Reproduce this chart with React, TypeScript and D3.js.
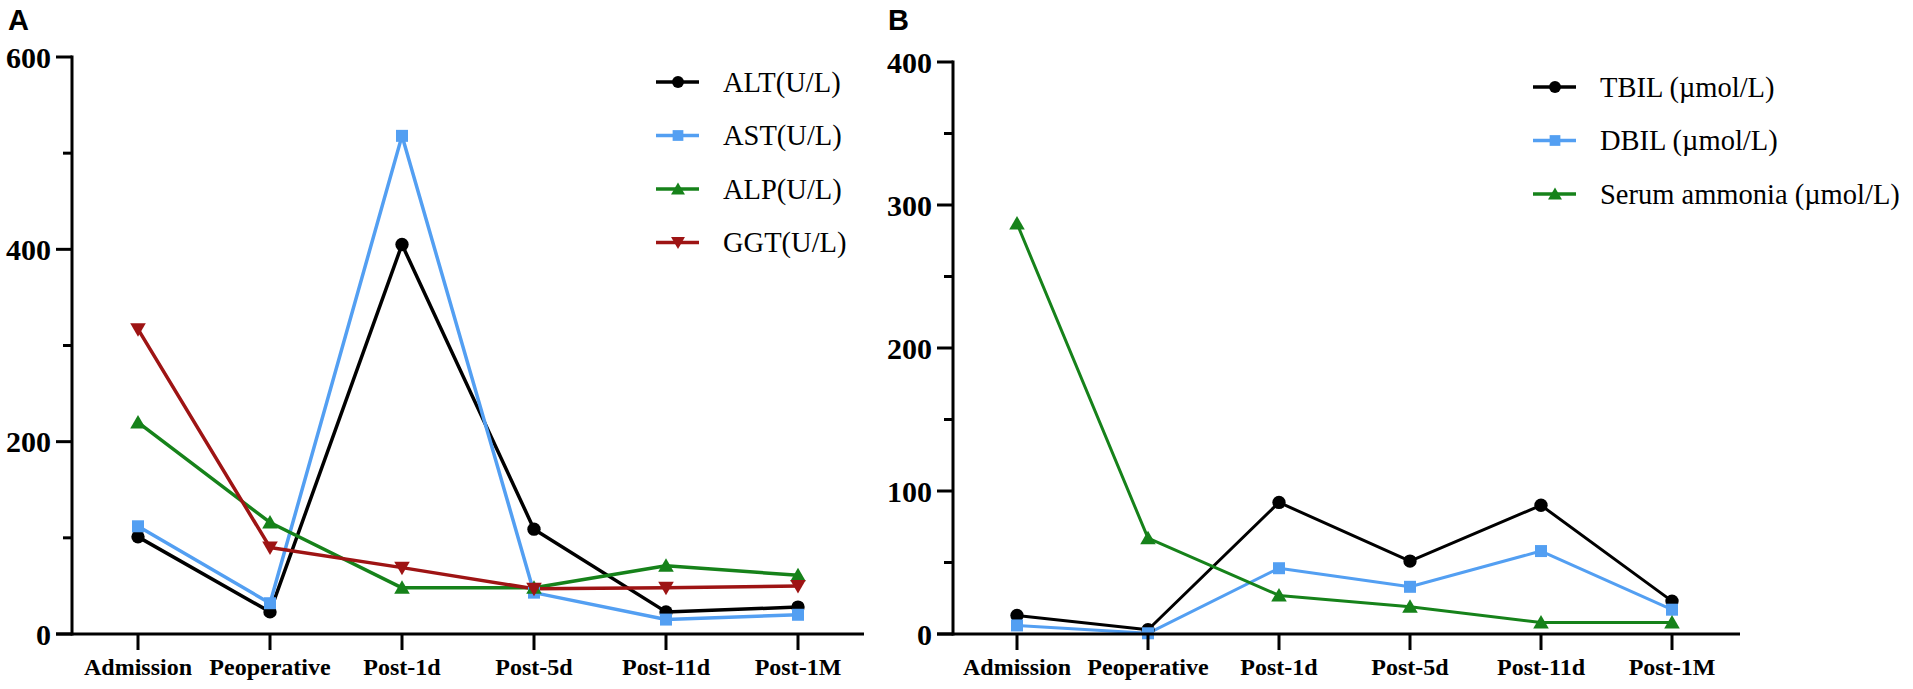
import React, { useEffect } from "react";
import * as d3 from "d3";

const categories = ["Admission", "Peoperative", "Post-1d", "Post-5d", "Post-11d", "Post-1M"];

// Panel A (U/L)
const altValues = [101, 23, 405, 109, 23, 28];
const astValues = [112, 32, 518, 43, 15, 20];
const alpValues = [220, 116, 48, 48, 71, 61];
const ggtValues = [317, 90, 69, 47, 48, 50];
const ticksA = [0, 200, 400, 600];
const minorTicksA = [100, 300, 500];

// Panel B (µmol/L)
const tbilValues = [13, 3, 92, 51, 90, 23];
const dbilValues = [6, 0.5, 46, 33, 58, 17];
const ammoniaValues = [287, 67, 27, 19, 8, 8];
const ticksB = [0, 100, 200, 300, 400];
const minorTicksB = [50, 150, 250, 350];

const BLACK = "#000000";
const BLUE = "#539ff2";
const GREEN = "#16821a";
const RED = "#9e1414";

type Shape = "circle" | "square" | "up" | "down";

interface Series {
  name: string;
  values: number[];
  color: string;
  shape: Shape;
}

const seriesA: Series[] = [
  { name: "ALT(U/L)", values: altValues, color: BLACK, shape: "circle" },
  { name: "AST(U/L)", values: astValues, color: BLUE, shape: "square" },
  { name: "ALP(U/L)", values: alpValues, color: GREEN, shape: "up" },
  { name: "GGT(U/L)", values: ggtValues, color: RED, shape: "down" },
];

const seriesB: Series[] = [
  { name: "TBIL (\u00b5mol/L)", values: tbilValues, color: BLACK, shape: "circle" },
  { name: "DBIL (\u00b5mol/L)", values: dbilValues, color: BLUE, shape: "square" },
  { name: "Serum ammonia (\u00b5mol/L)", values: ammoniaValues, color: GREEN, shape: "up" },
];

const SERIF = "'Liberation Serif', 'Times New Roman', serif";
const SANS = "'Liberation Sans', Arial, sans-serif";

function markerPath(shape: Shape, scale = 1): string {
  const gen = d3.symbol();
  if (shape === "circle") return gen.type(d3.symbolCircle).size(140 * scale)() || "";
  if (shape === "square") return gen.type(d3.symbolSquare).size(144 * scale)() || "";
  return gen.type(d3.symbolTriangle).size(105 * scale)() || "";
}

function Marker({ shape, x, y, color, scale = 1 }: { shape: Shape; x: number; y: number; color: string; scale?: number }) {
  const rot = shape === "down" ? 180 : 0;
  const dy = shape === "up" ? 1.5 : shape === "down" ? -1.5 : 0;
  return (
    <path
      d={markerPath(shape, scale)}
      transform={`translate(${x},${y + dy}) rotate(${rot})`}
      fill={color}
    />
  );
}

interface PanelProps {
  label: string;
  labelX: number;
  axisX: number;
  xRange: [number, number];
  yDomain: [number, number];
  yRange: [number, number];
  axisEnd: number;
  majorTicks: number[];
  minorTicks: number[];
  series: Series[];
  lineWidth: number;
  legendX: number;
  legendY: number;
  legendStep: number;
}

function Panel(p: PanelProps) {
  const x = d3.scalePoint<string>().domain(categories).range(p.xRange).padding(0);
  const y = d3.scaleLinear().domain(p.yDomain).range(p.yRange);
  const y0 = y(0);
  const line = d3
    .line<number>()
    .x((_, i) => x(categories[i]) as number)
    .y((v) => y(v));

  return (
    <g>
      <text x={p.labelX} y={30} fontFamily={SANS} fontWeight="bold" fontSize={29}>
        {p.label}
      </text>

      {/* data lines */}
      {p.series.map((s) => (
        <path key={s.name} d={line(s.values) || ""} fill="none" stroke={s.color} strokeWidth={p.lineWidth} strokeLinejoin="round" />
      ))}
      {p.series.map((s) =>
        s.values.map((v, i) => (
          <Marker key={s.name + i} shape={s.shape} x={x(categories[i]) as number} y={y(v)} color={s.color} />
        ))
      )}

      {/* y axis */}
      <line x1={p.axisX} x2={p.axisX} y1={y(p.yDomain[1]) - 1.5} y2={y0 + 1.5} stroke="#000" strokeWidth={3} />
      {p.majorTicks.map((t) => (
        <g key={"M" + t}>
          <line x1={p.axisX - 16} x2={p.axisX} y1={y(t)} y2={y(t)} stroke="#000" strokeWidth={3} />
          <text
            x={p.axisX - 21}
            y={y(t)}
            textAnchor="end"
            dominantBaseline="central"
            fontFamily={SERIF}
            fontWeight="bold"
            fontSize={30}
          >
            {t}
          </text>
        </g>
      ))}
      {p.minorTicks.map((t) => (
        <line key={"m" + t} x1={p.axisX - 9} x2={p.axisX} y1={y(t)} y2={y(t)} stroke="#000" strokeWidth={3} />
      ))}

      {/* x axis */}
      <line x1={p.axisX - 16} x2={p.axisEnd} y1={y0} y2={y0} stroke="#000" strokeWidth={3} />
      {categories.map((c) => (
        <g key={c}>
          <line x1={x(c) as number} x2={x(c) as number} y1={y0} y2={y0 + 16} stroke="#000" strokeWidth={3} />
          <text x={x(c) as number} y={675} textAnchor="middle" fontFamily={SERIF} fontWeight="bold" fontSize={24}>
            {c}
          </text>
        </g>
      ))}

      {/* legend */}
      {p.series.map((s, i) => {
        const ly = p.legendY + i * p.legendStep;
        return (
          <g key={"lg" + s.name}>
            <line x1={p.legendX} x2={p.legendX + 43} y1={ly} y2={ly} stroke={s.color} strokeWidth={3.5} />
            <Marker shape={s.shape} x={p.legendX + 22} y={ly} color={s.color} scale={0.8} />
            <text x={p.legendX + 67} y={ly} dominantBaseline="central" fontFamily={SERIF} fontSize={28.5}>
              {s.name}
            </text>
          </g>
        );
      })}
    </g>
  );
}

export default function App() {
  useEffect(() => {
    document.body.style.margin = "0";
  }, []);
  return (
    <svg
      width={1913}
      height={689}
      viewBox="0 0 1913 689"
      style={{ position: "absolute", left: 0, top: 0, background: "#fff" }}
    >
      <rect x={0} y={0} width={1913} height={689} fill="#fff" />
      <Panel
        label="A"
        labelX={8}
        axisX={72}
        xRange={[138, 798]}
        yDomain={[0, 600]}
        yRange={[634, 57]}
        axisEnd={864}
        majorTicks={ticksA}
        minorTicks={minorTicksA}
        series={seriesA}
        lineWidth={3.5}
        legendX={656}
        legendY={82}
        legendStep={53.5}
      />
      <Panel
        label="B"
        labelX={888}
        axisX={953}
        xRange={[1017, 1672]}
        yDomain={[0, 400]}
        yRange={[634, 62]}
        axisEnd={1740}
        majorTicks={ticksB}
        minorTicks={minorTicksB}
        series={seriesB}
        lineWidth={3}
        legendX={1533}
        legendY={87}
        legendStep={53.5}
      />
    </svg>
  );
}
